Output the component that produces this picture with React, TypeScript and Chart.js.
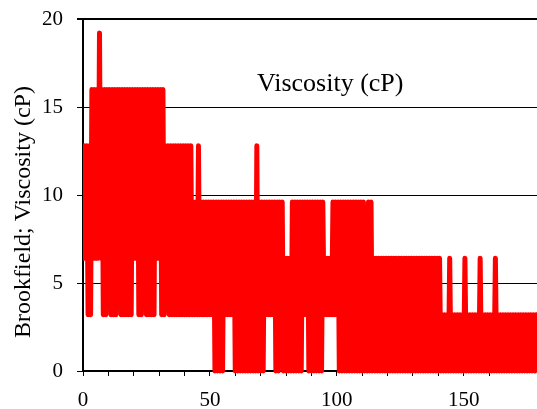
import React, { useEffect, useRef } from "react";
import { Chart, registerables } from "chart.js";

Chart.register(...registerables);

// Brookfield viscosity record (cP). Readings jump between discrete levels;
// troughs[i] is the low reading near x = i, peaks[i] the high reading near x = i + 0.5.
const troughs: number[] = [
  6.4, 6.4, 3.2, 3.2, 6.4, 6.4, 6.4, 6.4, 3.2, 3.2,
  6.4, 3.2, 3.2, 3.2, 6.4, 3.2, 3.2, 3.2, 3.2, 3.2,
  6.4, 6.4, 3.2, 3.2, 6.4, 3.2, 3.2, 3.2, 3.2, 6.4,
  6.4, 3.2, 3.2, 6.4, 3.2, 3.2, 3.2, 3.2, 3.2, 3.2,
  3.2, 3.2, 3.2, 3.2, 3.2, 3.2, 3.2, 3.2, 3.2, 3.2,
  3.2, 3.2, 0, 0, 0, 0, 3.2, 3.2, 3.2, 3.2,
  0, 0, 0, 0, 0, 0, 0, 0, 0, 0,
  0, 0, 3.2, 3.2, 3.2, 3.2, 0, 0, 3.2, 0,
  0, 0, 0, 0, 0, 0, 0, 3.2, 3.2, 0,
  0, 0, 0, 0, 0, 3.2, 3.2, 3.2, 3.2, 3.2,
  3.2, 0, 0, 0, 0, 0, 0, 0, 0, 0,
  0, 0, 0, 0, 0, 0, 0, 0, 0, 0,
  0, 0, 0, 0, 0, 0, 0, 0, 0, 0,
  0, 0, 0, 0, 0, 0, 0, 0, 0, 0,
  0, 0, 0, 0, 0, 0, 0, 0, 0, 0,
  0, 0, 0, 0, 0, 0, 0, 0, 0, 0,
  0, 0, 0, 0, 0, 0, 0, 0, 0, 0,
  0, 0, 0, 0, 0, 0, 0, 0, 0,
];

const peaks: number[] = [
  12.8, 12.8, 12.8, 16, 16, 16, 19.2, 16, 16, 16,
  16, 16, 16, 16, 16, 16, 16, 16, 16, 16,
  16, 16, 16, 16, 16, 16, 16, 16, 16, 16,
  16, 16, 12.8, 12.8, 12.8, 12.8, 12.8, 12.8, 12.8, 12.8,
  12.8, 12.8, 12.8, 9.6, 9.6, 12.8, 9.6, 9.6, 9.6, 9.6,
  9.6, 9.6, 9.6, 9.6, 9.6, 9.6, 9.6, 9.6, 9.6, 9.6,
  9.6, 9.6, 9.6, 9.6, 9.6, 9.6, 9.6, 9.6, 12.8, 9.6,
  9.6, 9.6, 9.6, 9.6, 9.6, 9.6, 9.6, 9.6, 9.6, 6.4,
  6.4, 6.4, 9.6, 9.6, 9.6, 9.6, 9.6, 9.6, 9.6, 9.6,
  9.6, 9.6, 9.6, 9.6, 9.6, 6.4, 6.4, 6.4, 9.6, 9.6,
  9.6, 9.6, 9.6, 9.6, 9.6, 9.6, 9.6, 9.6, 9.6, 9.6,
  9.6, 6.4, 9.6, 9.6, 6.4, 6.4, 6.4, 6.4, 6.4, 6.4,
  6.4, 6.4, 6.4, 6.4, 6.4, 6.4, 6.4, 6.4, 6.4, 6.4,
  6.4, 6.4, 6.4, 6.4, 6.4, 6.4, 6.4, 6.4, 6.4, 6.4,
  6.4, 3.2, 3.2, 3.2, 6.4, 3.2, 3.2, 3.2, 3.2, 3.2,
  6.4, 3.2, 3.2, 3.2, 3.2, 3.2, 6.4, 3.2, 3.2, 3.2,
  3.2, 3.2, 6.4, 3.2, 3.2, 3.2, 3.2, 3.2, 3.2, 3.2,
  3.2, 3.2, 3.2, 3.2, 3.2, 3.2, 3.2, 3.2, 3.2,
];

const xMin = 0;
const xMax = 178.9;
const xLabelled = [0, 50, 100, 150];
const yTickValues = [0, 5, 10, 15, 20];
const seriesName = "Viscosity (cP)";
const yTitle = "Brookfield; Viscosity (cP)";

const SERIF = '"Liberation Serif", "Times New Roman", serif';

export default function App() {
  const canvasRef = useRef<HTMLCanvasElement | null>(null);

  useEffect(() => {
    const canvas = canvasRef.current;
    if (!canvas) return;

    const points: { x: number; y: number }[] = [];
    for (let i = 0; i < troughs.length; i++) {
      points.push({ x: i, y: troughs[i] });
      points.push({ x: i + 0.5, y: peaks[i] });
    }

    const textPlugin = {
      id: "textAnnotations",
      afterDraw(chart: any) {
        const ctx = chart.ctx as CanvasRenderingContext2D;
        ctx.save();
        ctx.fillStyle = "#000";
        ctx.font = `26px ${SERIF}`;
        ctx.textAlign = "left";
        ctx.textBaseline = "alphabetic";
        ctx.fillText(seriesName, 257, 91);
        ctx.translate(30, 212);
        ctx.rotate(-Math.PI / 2);
        ctx.font = `24px ${SERIF}`;
        ctx.textAlign = "center";
        ctx.fillText(yTitle, 0, 0);
        ctx.restore();
      },
    };

    const chart = new Chart(canvas, {
      type: "line",
      data: {
        datasets: [
          {
            label: seriesName,
            data: points,
            borderColor: "#ff0000",
            backgroundColor: "#ff0000",
            borderWidth: 5,
            pointRadius: 0,
            tension: 0,
            borderJoinStyle: "round",
            borderCapStyle: "round",
            fill: false,
            clip: { left: 0, top: 6, right: 0, bottom: 4 } as any,
          },
        ],
      },
      options: {
        responsive: false,
        animation: false,
        devicePixelRatio: 1,
        events: [],
        layout: { padding: { top: 19, left: 0, right: 0, bottom: 0 } },
        plugins: {
          legend: { display: false },
          tooltip: { enabled: false },
          title: { display: false },
        },
        scales: {
          x: {
            type: "linear",
            min: xMin,
            max: xMax,
            afterBuildTicks: (scale: any) => {
              scale.ticks = scale.ticks.filter((t: any) => t.value % 10 === 0);
            },
            afterFit: (scale: any) => {
              scale.height = 38;
              scale.paddingLeft = 0;
              scale.paddingRight = 0;
            },
            ticks: {
              stepSize: 10,
              autoSkip: false,
              maxRotation: 0,
              padding: 12,
              color: "#000",
              font: { family: SERIF, size: 21 },
              callback: (v: any) => (xLabelled.includes(Number(v)) ? String(v) : ""),
            },
            grid: {
              drawOnChartArea: false,
              drawTicks: true,
              tickLength: 5,
              color: "#000",
              lineWidth: 1,
            },
            border: { display: true, color: "#000", width: 2 },
          },
          y: {
            type: "linear",
            min: 0,
            max: 20,
            afterBuildTicks: (scale: any) => {
              scale.ticks = yTickValues.map((v) => ({ value: v }));
            },
            afterFit: (scale: any) => {
              scale.width = 83;
              scale.paddingTop = 0;
              scale.paddingBottom = 0;
            },
            ticks: {
              padding: 14,
              color: "#000",
              font: { family: SERIF, size: 21 },
            },
            grid: {
              color: "#000",
              lineWidth: (ctx: any) => (ctx.tick && ctx.tick.value === 20 ? 2 : 1),
              tickLength: 6,
            },
            border: { display: true, color: "#000", width: 2 },
          },
        },
      },
      plugins: [textPlugin],
    } as any);

    return () => {
      chart.destroy();
    };
  }, []);

  return (
    <div style={{ position: "fixed", left: 0, top: 0, width: 537, height: 409, background: "#fff" }}>
      <canvas ref={canvasRef} width={537} height={409} style={{ display: "block" }} />
    </div>
  );
}
